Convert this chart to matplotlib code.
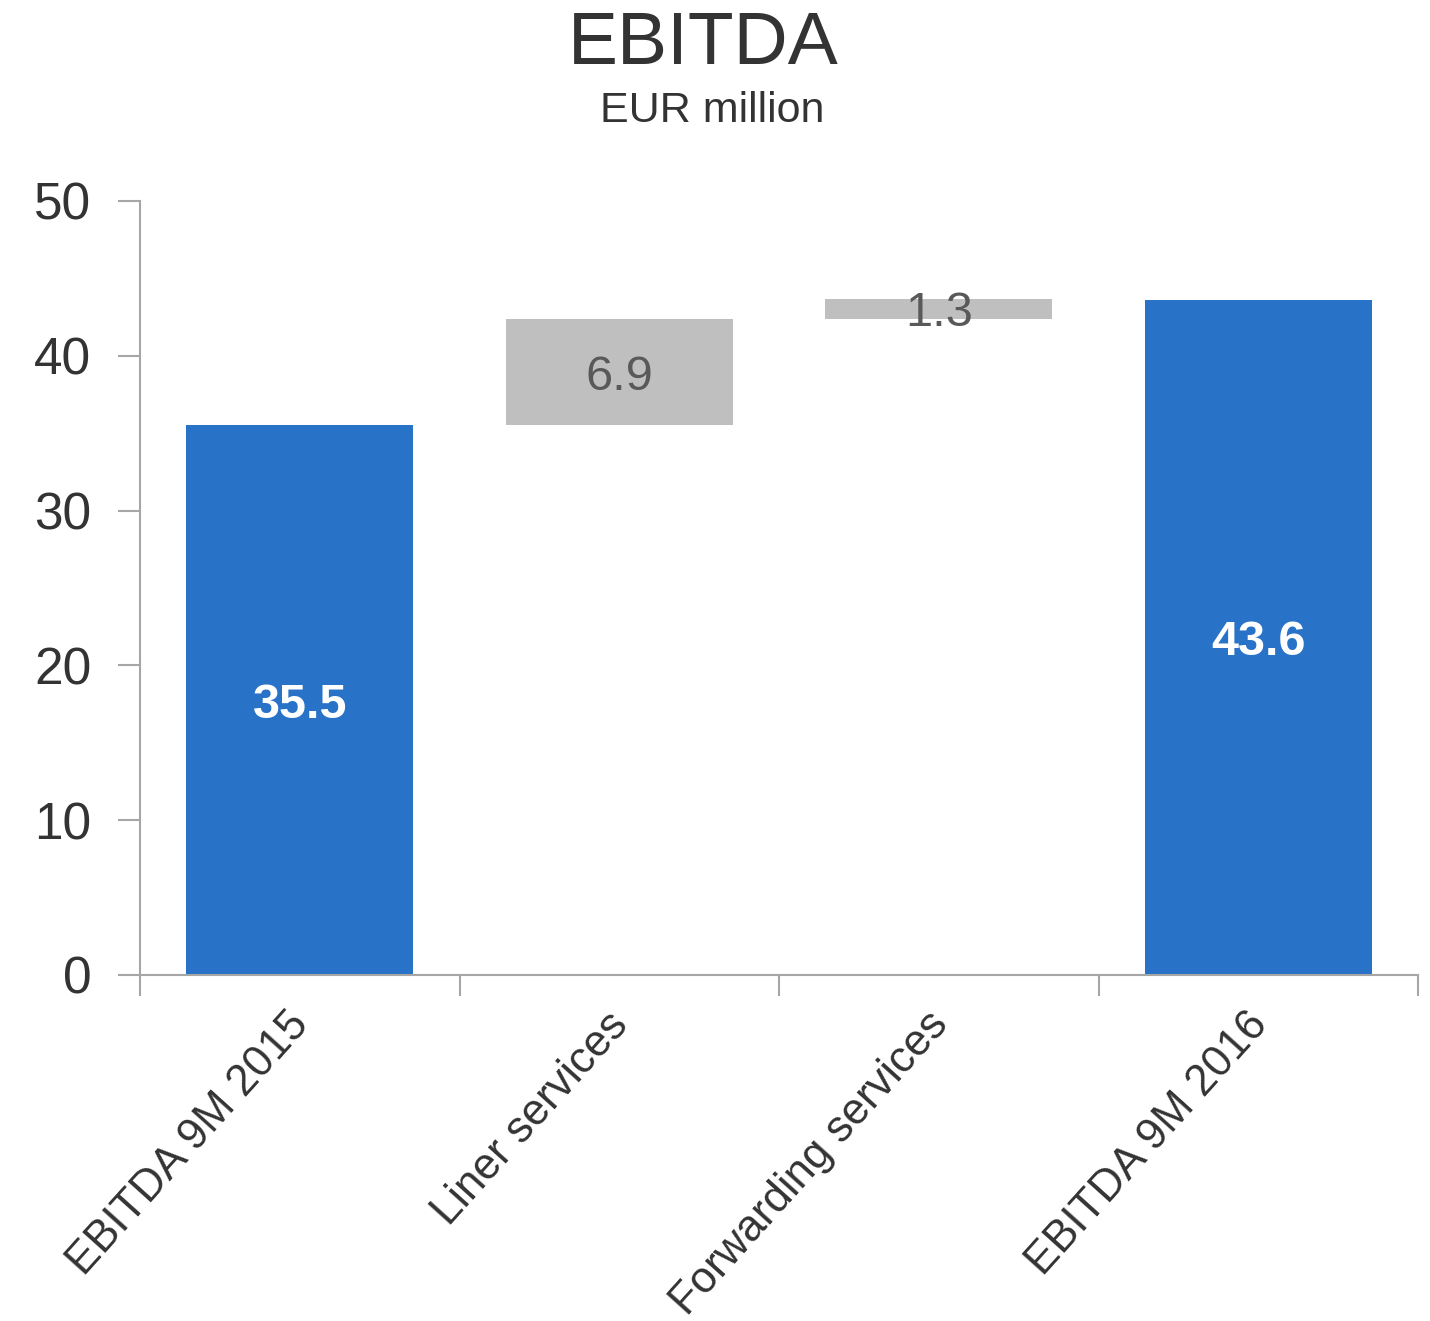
import matplotlib
matplotlib.use("Agg")
import matplotlib.pyplot as plt
import matplotlib.transforms as mtransforms
import numpy as np

# ============================
# DATA
# ============================

categories = ["EBITDA 9M 2015", "Liner services", "Forwarding services", "EBITDA 9M 2016"]
start_value = 35.5
changes = [6.9, 1.3]
end_value = 43.6
y_ticks = [0, 10, 20, 30, 40, 50]

# ============================
# WATERFALL LAYOUT
# ============================

heights = [start_value] + changes + [end_value]
bottoms = [0.0]
running = start_value
for c in changes:
    bottoms.append(running)
    running += c
bottoms.append(0.0)

BLUE = "#2872C8"
GREY = "#BFBFBF"
TEXT = "#333333"
AXIS = "#A6A6A6"
colors = [BLUE, GREY, GREY, BLUE]

plt.rcParams["font.family"] = ["Liberation Sans", "DejaVu Sans"]

fig = plt.figure(figsize=(14.3, 13.21), dpi=100)
ax = fig.add_axes([140 / 1430, 1 - 975 / 1321, (1418 - 140) / 1430, (975 - 201) / 1321])

x = np.arange(len(categories))
ax.bar(x, heights, bottom=bottoms, width=0.71, color=colors, zorder=2)

# value labels
for i, (h, b) in enumerate(zip(heights, bottoms)):
    if colors[i] == BLUE:
        ax.text(i, b + h / 2, f"{h:.1f}", ha="center", va="center_baseline",
                color="white", fontsize=35, fontweight="bold", zorder=3)
    else:
        ax.text(i, b + h / 2, f"{h:.1f}", ha="center", va="center_baseline",
                color="#595959", fontsize=35, zorder=3)

# ============================
# AXES STYLE
# ============================

ax.set_xlim(-0.5, len(categories) - 0.5)
ax.set_ylim(0, 50)
ax.set_yticks(y_ticks)
ax.set_yticklabels([str(t) for t in y_ticks])

# x ticks at category boundaries, labels at category centers
ax.set_xticks(np.arange(len(categories) + 1) - 0.5)
ax.set_xticklabels([])
ax.set_xticks(x, minor=True)
ax.set_xticklabels(categories, minor=True, rotation=48, ha="right",
                   rotation_mode="anchor", fontsize=31.5, color=TEXT)
ax.tick_params(axis="x", which="minor", length=0, pad=22)
ax.tick_params(axis="x", which="major", length=15, width=1.5, color=AXIS, direction="out")
ax.tick_params(axis="y", length=16, width=1.5, color=AXIS, labelsize=37,
               labelcolor=TEXT, pad=19)

shift = mtransforms.ScaledTranslation(-13 / 100, 1 / 100, fig.dpi_scale_trans)
for lbl in ax.get_xticklabels(minor=True):
    lbl.set_transform(lbl.get_transform() + shift)

for s in ["top", "right"]:
    ax.spines[s].set_visible(False)
for s in ["left", "bottom"]:
    ax.spines[s].set_color(AXIS)
    ax.spines[s].set_linewidth(1.5)

# ============================
# TITLES
# ============================

fig.text(703 / 1430, 1 - 45 / 1321, "EBITDA", ha="center", va="center",
         fontsize=54, color=TEXT)
fig.text(712 / 1430, 1 - 111 / 1321, "EUR million", ha="center", va="center",
         fontsize=31, color=TEXT)

fig.savefig("out.png", dpi=100)
